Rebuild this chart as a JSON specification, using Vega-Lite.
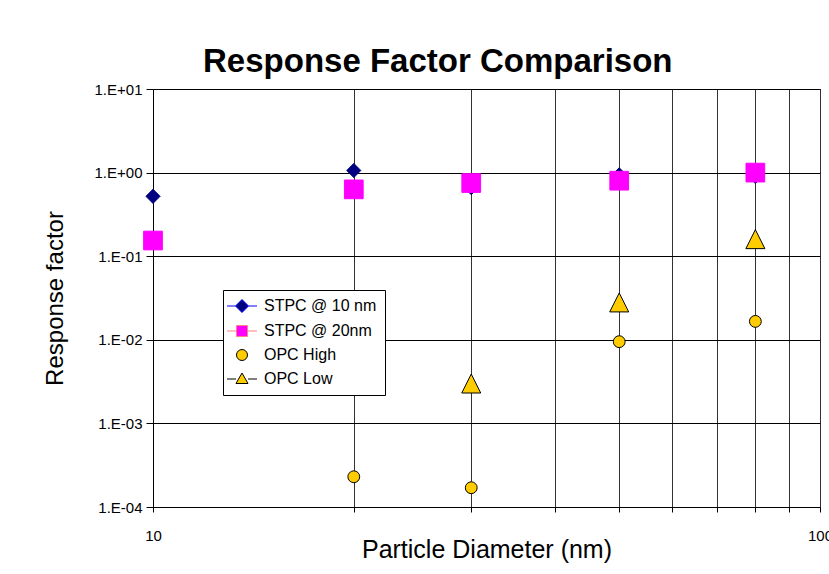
{
  "$schema": "https://vega.github.io/schema/vega-lite/v6.json",
  "autosize": {"type": "none"},
  "padding": {"left": 153, "top": 89, "right": 9, "bottom": 67},
  "width": 667,
  "height": 418,
  "background": "white",
  "title": {
    "text": "Response Factor Comparison",
    "frame": "bounds",
    "anchor": "middle",
    "fontSize": 33,
    "fontWeight": "bold",
    "font": "Liberation Sans",
    "color": "black",
    "offset": 3
  },
  "config": {
    "view": {"stroke": "black", "strokeWidth": 1},
    "font": "Liberation Sans"
  },
  "data": {
    "values": [
      {"series": "STPC @ 10 nm", "d": 10, "rf": 0.52},
      {"series": "STPC @ 10 nm", "d": 20, "rf": 1.06},
      {"series": "STPC @ 10 nm", "d": 30, "rf": 0.66},
      {"series": "STPC @ 10 nm", "d": 50, "rf": 0.94},
      {"series": "STPC @ 10 nm", "d": 80, "rf": 0.9},
      {"series": "STPC @ 20nm", "d": 10, "rf": 0.154},
      {"series": "STPC @ 20nm", "d": 20, "rf": 0.63},
      {"series": "STPC @ 20nm", "d": 30, "rf": 0.75},
      {"series": "STPC @ 20nm", "d": 50, "rf": 0.8},
      {"series": "STPC @ 20nm", "d": 80, "rf": 1.0},
      {"series": "OPC High", "d": 20, "rf": 0.00023},
      {"series": "OPC High", "d": 30, "rf": 0.00017},
      {"series": "OPC High", "d": 50, "rf": 0.0095},
      {"series": "OPC High", "d": 80, "rf": 0.0166},
      {"series": "OPC Low", "d": 30, "rf": 0.003},
      {"series": "OPC Low", "d": 50, "rf": 0.028},
      {"series": "OPC Low", "d": 80, "rf": 0.16}
    ]
  },
  "encoding": {
    "x": {
      "field": "d",
      "type": "quantitative",
      "scale": {"type": "log", "domain": [10, 100], "nice": false},
      "axis": {
        "values": [10, 20, 30, 40, 50, 60, 70, 80, 90, 100],
        "labelExpr": "datum.value == 10 || datum.value == 100 ? datum.value : ''",
        "grid": true,
        "gridColor": "#333333",
        "gridOpacity": 1,
        "gridWidth": 1,
        "domainColor": "black",
        "tickColor": "black",
        "tickSize": 5,
        "labelFontSize": 15,
        "labelColor": "black",
        "labelPadding": 16,
        "labelFlush": false,
        "title": "Particle Diameter (nm)",
        "titleFontSize": 25,
        "titleFontWeight": "normal",
        "titleColor": "black",
        "titleY": 50,
        "titleBaseline": "alphabetic"
      }
    },
    "y": {
      "field": "rf",
      "type": "quantitative",
      "scale": {"type": "log", "domain": [0.0001, 10], "nice": false},
      "axis": {
        "values": [0.0001, 0.001, 0.01, 0.1, 1, 10],
        "labelExpr": "'1.E' + (round(log(datum.value)/LN10) >= 0 ? '+' : '-') + '0' + abs(round(log(datum.value)/LN10))",
        "grid": true,
        "gridColor": "black",
        "gridOpacity": 1,
        "gridWidth": 1,
        "domainColor": "black",
        "tickColor": "black",
        "tickSize": 7,
        "labelFontSize": 15,
        "labelColor": "black",
        "labelPadding": 4,
        "title": "Response factor",
        "titleFontSize": 24,
        "titleFontWeight": "normal",
        "titleColor": "black",
        "titleX": -91,
        "titleBaseline": "alphabetic"
      }
    },
    "fill": {
      "field": "series",
      "type": "nominal",
      "scale": {
        "domain": ["STPC @ 10 nm", "STPC @ 20nm", "OPC High", "OPC Low"],
        "range": ["#000080", "#FF00FF", "#FFCC00", "#FFCC00"]
      },
      "legend": {
        "title": null,
        "orient": "none",
        "legendX": 70,
        "legendY": 201,
        "strokeColor": "black",
        "fillColor": "white",
        "padding": 8,
        "cornerRadius": 0,
        "symbolSize": 100,
        "symbolOpacity": 1,
        "symbolStrokeWidth": 1,
        "symbolOffset": 3,
        "labelOffset": 14,
        "labelFontSize": 16,
        "labelColor": "black",
        "rowPadding": 8,
        "labelLimit": 300
      }
    }
  },
  "layer": [
    {
      "transform": [{"filter": "datum.series == 'STPC @ 10 nm'"}],
      "mark": {"type": "point", "filled": true, "opacity": 1, "shape": "diamond", "size": 200, "stroke": "#000080", "strokeWidth": 1}
    },
    {
      "transform": [{"filter": "datum.series == 'STPC @ 20nm'"}],
      "mark": {"type": "point", "filled": true, "opacity": 1, "shape": "square", "size": 350, "stroke": "#FF00FF", "strokeWidth": 1}
    },
    {
      "transform": [{"filter": "datum.series == 'OPC High'"}],
      "mark": {"type": "point", "filled": true, "opacity": 1, "shape": "circle", "size": 140, "stroke": "black", "strokeWidth": 1}
    },
    {
      "transform": [{"filter": "datum.series == 'OPC Low'"}],
      "mark": {"type": "point", "filled": true, "opacity": 1, "shape": "M0,-1L1,1H-1Z", "size": 361, "stroke": "black", "strokeWidth": 1}
    },
    {
      "transform": [{"filter": "datum.d > 1000"}],
      "mark": {"type": "point", "filled": true, "opacity": 1, "strokeWidth": 1},
      "encoding": {
        "shape": {
          "field": "series",
          "type": "nominal",
          "scale": {
            "domain": ["STPC @ 10 nm", "STPC @ 20nm", "OPC High", "OPC Low"],
            "range": [
              "M-3,0H-1.3M1.3,0H3M0,-1.3L1.3,0L0,1.3L-1.3,0Z",
              "M-3,0H-1.1M1.1,0H3M-1.1,-1.1H1.1V1.1H-1.1Z",
              "M1.1,0A1.1,1.1 0 1,1 -1.1,0A1.1,1.1 0 1,1 1.1,0Z",
              "M-3,0H-1.2M1.2,0H3M0,-1.2L1.2,0.9H-1.2Z"
            ]
          }
        },
        "stroke": {
          "field": "series",
          "type": "nominal",
          "scale": {
            "domain": ["STPC @ 10 nm", "STPC @ 20nm", "OPC High", "OPC Low"],
            "range": ["#0000FF", "#FF8080", "black", "black"]
          }
        }
      }
    }
  ]
}
